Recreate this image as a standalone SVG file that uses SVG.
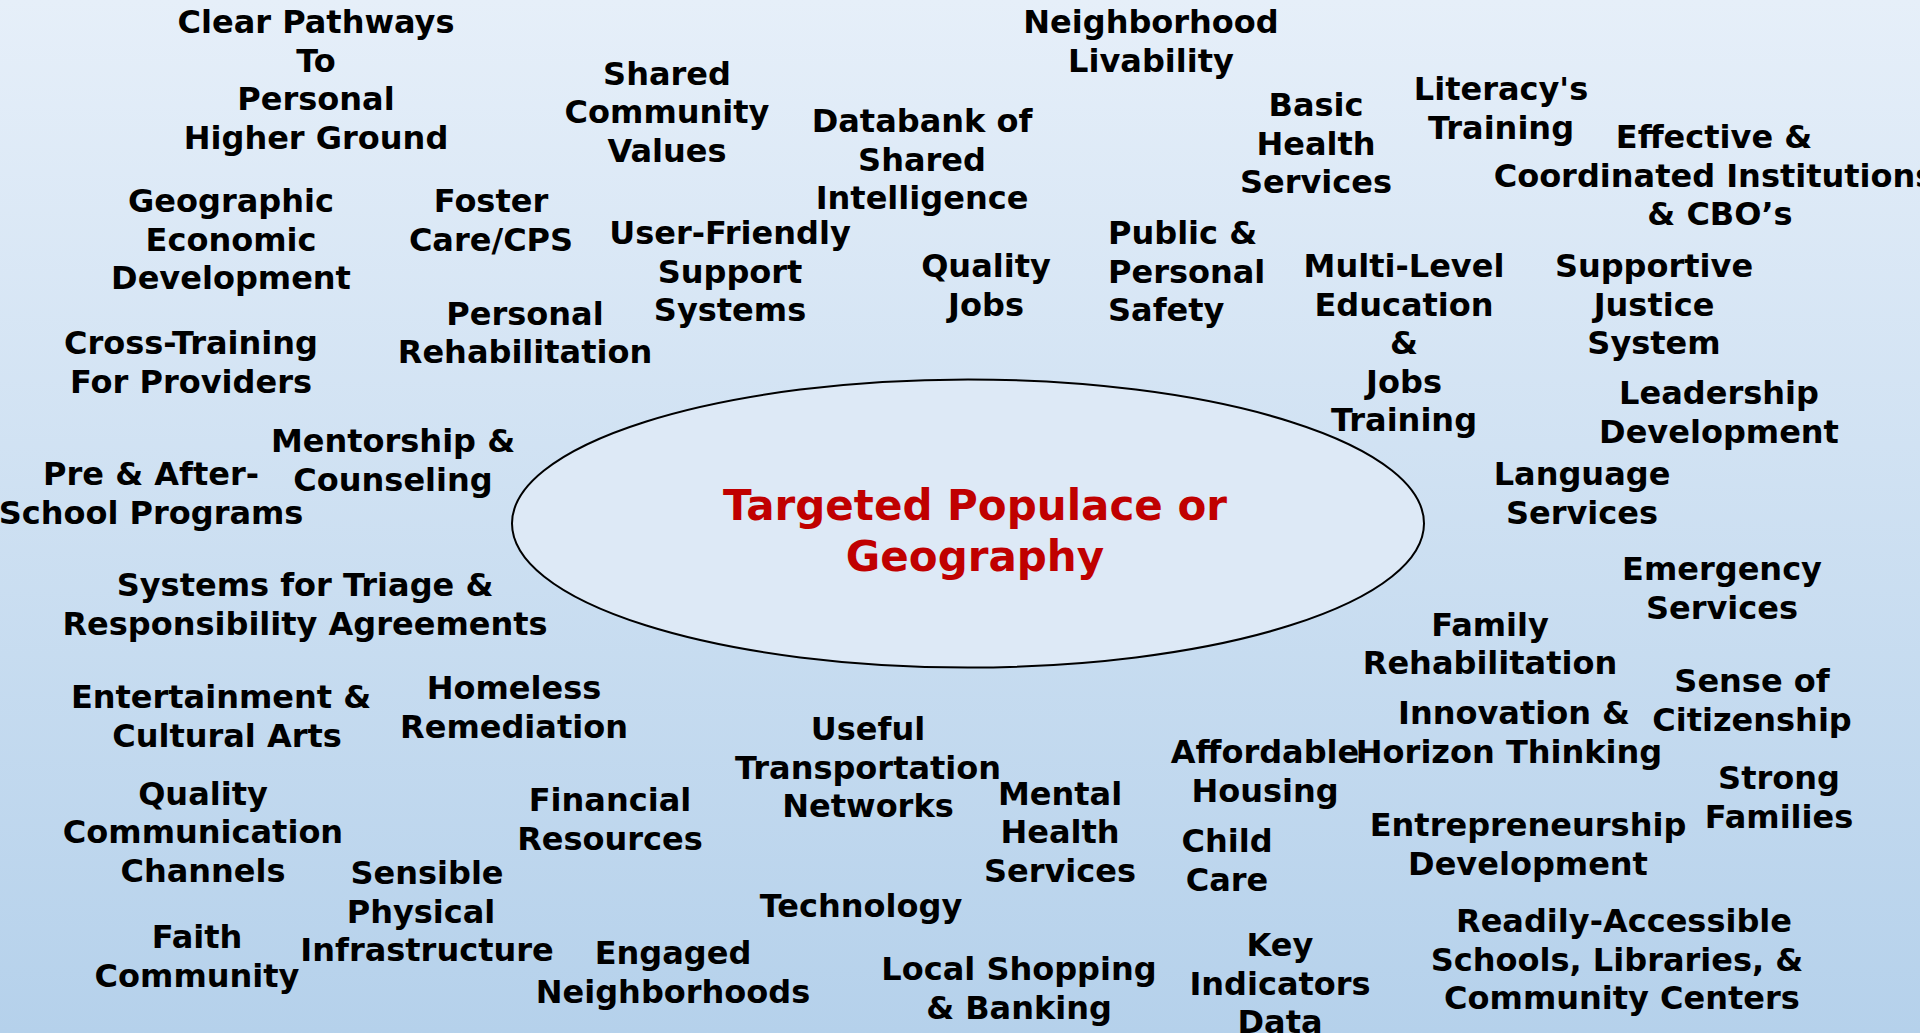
<svg xmlns="http://www.w3.org/2000/svg" width="1920" height="1033" viewBox="0 0 1920 1033">
<defs>
<linearGradient id="bg" x1="0" y1="0" x2="0" y2="1">
<stop offset="0" stop-color="#e6eff9"/>
<stop offset="1" stop-color="#b5d1eb"/>
</linearGradient>
<style>
.t{font-family:"DejaVu Sans","Liberation Sans",sans-serif;font-weight:bold;font-size:32px;fill:#000;text-anchor:middle}
.l{text-anchor:start}
.c{font-family:"DejaVu Sans","Liberation Sans",sans-serif;font-weight:bold;font-size:42px;fill:#c00000;text-anchor:middle}
</style>
</defs>
<rect x="0" y="0" width="1920" height="1033" fill="url(#bg)"/>
<g id="center">
<ellipse cx="968" cy="523.5" rx="456" ry="144" fill="#dde9f6" stroke="#000" stroke-width="2"/>
<text class="c" x="975" y="520">Targeted Populace or</text>
<text class="c" x="975" y="571">Geography</text>
</g>
<g id="n1"><text class="t" x="316" y="33"><tspan x="316">Clear Pathways</tspan><tspan x="316" dy="38.5">To</tspan><tspan x="316" dy="38.5">Personal</tspan><tspan x="316" dy="38.5">Higher Ground</tspan></text></g>
<g id="n2"><text class="t" x="667" y="84.5"><tspan x="667">Shared</tspan><tspan x="667" dy="38.5">Community</tspan><tspan x="667" dy="38.5">Values</tspan></text></g>
<g id="n3"><text class="t" x="1151" y="33"><tspan x="1151">Neighborhood</tspan><tspan x="1151" dy="38.5">Livability</tspan></text></g>
<g id="n4"><text class="t" x="922" y="132"><tspan x="922">Databank of</tspan><tspan x="922" dy="38.5">Shared</tspan><tspan x="922" dy="38.5">Intelligence</tspan></text></g>
<g id="n5"><text class="t" x="1316" y="116"><tspan x="1316">Basic</tspan><tspan x="1316" dy="38.5">Health</tspan><tspan x="1316" dy="38.5">Services</tspan></text></g>
<g id="n6"><text class="t" x="1501" y="100"><tspan x="1501">Literacy's</tspan><tspan x="1501" dy="38.5">Training</tspan></text></g>
<g id="n7"><text class="t" x="1714" y="148"><tspan x="1714">Effective &amp;</tspan><tspan x="1714" dy="38.5">Coordinated Institutions</tspan><tspan x="1720" dy="38.5">&amp; CBO’s</tspan></text></g>
<g id="n8"><text class="t" x="231" y="212"><tspan x="231">Geographic</tspan><tspan x="231" dy="38.5">Economic</tspan><tspan x="231" dy="38.5">Development</tspan></text></g>
<g id="n9"><text class="t" x="491" y="212"><tspan x="491">Foster</tspan><tspan x="491" dy="38.5">Care/CPS</tspan></text></g>
<g id="n10"><text class="t" x="730" y="244"><tspan x="730">User-Friendly</tspan><tspan x="730" dy="38.5">Support</tspan><tspan x="730" dy="38.5">Systems</tspan></text></g>
<g id="n11"><text class="t" x="986" y="277"><tspan x="986">Quality</tspan><tspan x="986" dy="38.5">Jobs</tspan></text></g>
<g id="n12"><text class="t l" x="1108" y="244"><tspan x="1108">Public &amp;</tspan><tspan x="1108" dy="38.5">Personal</tspan><tspan x="1108" dy="38.5">Safety</tspan></text></g>
<g id="n13"><text class="t" x="1404" y="277"><tspan x="1404">Multi-Level</tspan><tspan x="1404" dy="38.5">Education</tspan><tspan x="1404" dy="38.5">&amp;</tspan><tspan x="1404" dy="38.5">Jobs</tspan><tspan x="1404" dy="38.5">Training</tspan></text></g>
<g id="n14"><text class="t" x="1654" y="277"><tspan x="1654">Supportive</tspan><tspan x="1654" dy="38.5">Justice</tspan><tspan x="1654" dy="38.5">System</tspan></text></g>
<g id="n15"><text class="t" x="191" y="354"><tspan x="191">Cross-Training</tspan><tspan x="191" dy="38.5">For Providers</tspan></text></g>
<g id="n16"><text class="t" x="525" y="324.5"><tspan x="525">Personal</tspan><tspan x="525" dy="38.5">Rehabilitation</tspan></text></g>
<g id="n17"><text class="t" x="1719" y="404"><tspan x="1719">Leadership</tspan><tspan x="1719" dy="38.5">Development</tspan></text></g>
<g id="n18"><text class="t" x="393" y="452"><tspan x="393">Mentorship &amp;</tspan><tspan x="393" dy="38.5">Counseling</tspan></text></g>
<g id="n19"><text class="t" x="151" y="485"><tspan x="151">Pre &amp; After-</tspan><tspan x="151" dy="38.5">School Programs</tspan></text></g>
<g id="n20"><text class="t" x="1582" y="485"><tspan x="1582">Language</tspan><tspan x="1582" dy="38.5">Services</tspan></text></g>
<g id="n21"><text class="t" x="305" y="596"><tspan x="305">Systems for Triage &amp;</tspan><tspan x="305" dy="38.5">Responsibility Agreements</tspan></text></g>
<g id="n22"><text class="t" x="1722" y="580"><tspan x="1722">Emergency</tspan><tspan x="1722" dy="38.5">Services</tspan></text></g>
<g id="n23"><text class="t" x="1490" y="635.5"><tspan x="1490">Family</tspan><tspan x="1490" dy="38.5">Rehabilitation</tspan></text></g>
<g id="n24"><text class="t" x="1752" y="692"><tspan x="1752">Sense of</tspan><tspan x="1752" dy="38.5">Citizenship</tspan></text></g>
<g id="n25"><text class="t" x="224" y="708"><tspan x="221">Entertainment &amp;</tspan><tspan x="227" dy="38.5">Cultural Arts</tspan></text></g>
<g id="n26"><text class="t" x="514" y="699"><tspan x="514">Homeless</tspan><tspan x="514" dy="38.5">Remediation</tspan></text></g>
<g id="n27"><text class="t" x="1511" y="724"><tspan x="1514">Innovation &amp;</tspan><tspan x="1509" dy="38.5">Horizon Thinking</tspan></text></g>
<g id="n28"><text class="t" x="868" y="740"><tspan x="868">Useful</tspan><tspan x="868" dy="38.5">Transportation</tspan><tspan x="868" dy="38.5">Networks</tspan></text></g>
<g id="n29"><text class="t" x="1265" y="763"><tspan x="1265">Affordable</tspan><tspan x="1265" dy="38.5">Housing</tspan></text></g>
<g id="n30"><text class="t" x="1779" y="789"><tspan x="1779">Strong</tspan><tspan x="1779" dy="38.5">Families</tspan></text></g>
<g id="n31"><text class="t" x="203" y="804.5"><tspan x="203">Quality</tspan><tspan x="203" dy="38.5">Communication</tspan><tspan x="203" dy="38.5">Channels</tspan></text></g>
<g id="n32"><text class="t" x="610" y="811"><tspan x="610">Financial</tspan><tspan x="610" dy="38.5">Resources</tspan></text></g>
<g id="n33"><text class="t" x="1060" y="804.5"><tspan x="1060">Mental</tspan><tspan x="1060" dy="38.5">Health</tspan><tspan x="1060" dy="38.5">Services</tspan></text></g>
<g id="n34"><text class="t" x="1227" y="852"><tspan x="1227">Child</tspan><tspan x="1227" dy="38.5">Care</tspan></text></g>
<g id="n35"><text class="t" x="1528" y="836"><tspan x="1528">Entrepreneurship</tspan><tspan x="1528" dy="38.5">Development</tspan></text></g>
<g id="n36"><text class="t" x="427" y="884"><tspan x="427">Sensible</tspan><tspan x="421" dy="38.5">Physical</tspan><tspan x="427" dy="38.5">Infrastructure</tspan></text></g>
<g id="n37"><text class="t" x="861" y="917">Technology</text></g>
<g id="n38"><text class="t" x="1622" y="932"><tspan x="1624">Readily-Accessible</tspan><tspan x="1617" dy="38.5">Schools, Libraries, &amp;</tspan><tspan x="1622" dy="38.5">Community Centers</tspan></text></g>
<g id="n39"><text class="t" x="197" y="948"><tspan x="197">Faith</tspan><tspan x="197" dy="38.5">Community</tspan></text></g>
<g id="n40"><text class="t" x="673" y="964"><tspan x="673">Engaged</tspan><tspan x="673" dy="38.5">Neighborhoods</tspan></text></g>
<g id="n41"><text class="t" x="1019" y="980"><tspan x="1019">Local Shopping</tspan><tspan x="1019" dy="38.5">&amp; Banking</tspan></text></g>
<g id="n42"><text class="t" x="1280" y="956"><tspan x="1280">Key</tspan><tspan x="1280" dy="38.5">Indicators</tspan><tspan x="1280" dy="38.5">Data</tspan></text></g>
</svg>
